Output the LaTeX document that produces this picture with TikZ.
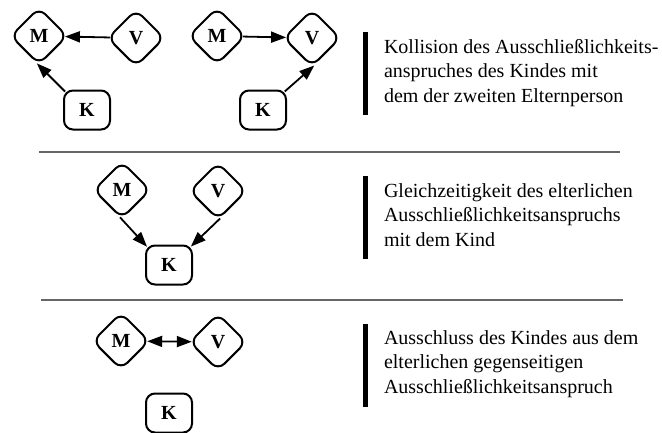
\documentclass[tikz,border=0pt]{standalone}
\usepackage{fontspec}
\setmainfont{Liberation Serif}
\usetikzlibrary{shapes.geometric,arrows.meta}
\tikzset{spitze/.tip={Triangle[length=15pt,width=11pt]}}

\begin{document}
\begin{tikzpicture}[x=1pt,y=-1pt,line width=2pt,>=spitze,
	eltern/.style={diamond,draw,rounded corners=9pt,minimum size=57pt,inner sep=0pt,font=\fontsize{20}{20}\selectfont\bfseries},
	kind/.style={draw,rounded corners=9pt,minimum width=46pt,minimum height=39pt,inner sep=0pt,font=\fontsize{20}{20}\selectfont\bfseries},
	pfeil/.style={line width=1.8pt,shorten >=-3pt,shorten <=-3pt},
	erkl/.style={anchor=base west,align=left,inner sep=0pt,font=\fontsize{20}{24.5}\selectfont},
	balken/.style={line width=5pt},
	trenner/.style={line width=1.2pt,black!60}]
	\useasboundingbox (0,0) rectangle (662,432);
	% Kollision
	\node[eltern] (m1) at (39,36) {M};
	\node[eltern] (v1) at (136,38) {V};
	\node[kind] (k1) at (87,110) {K};
	\draw[pfeil,->] (v1) -- (m1);
	\draw[pfeil,->] (k1.north west) -- (m1.south);
	\node[eltern] (m2) at (217,36) {M};
	\node[eltern] (v2) at (312,38) {V};
	\node[kind] (k2) at (263,110) {K};
	\draw[pfeil,->] (m2) -- (v2);
	\draw[pfeil,->] (k2.north east) -- (v2.south);
	\draw[balken] (365,32) -- (365,115);
	\node[erkl] (t1) at (383,102) {Kollision des Ausschließlichkeits-\\anspruches des Kindes mit\\dem der zweiten Elternperson};
	\draw[trenner] (39,152) -- (620,152);
	% Gleichzeitigkeit
	\node[eltern] (m3) at (122,190) {M};
	\node[eltern] (v3) at (218,191) {V};
	\node[kind] (k3) at (169,265) {K};
	\draw[pfeil,->] (m3.south) -- (k3.north west);
	\draw[pfeil,->] (v3.south) -- (k3.north east);
	\draw[balken] (365,176) -- (365,259);
	\node[erkl] (t2) at (383,246) {Gleichzeitigkeit des elterlichen\\Ausschließlichkeitsanspruchs\\mit dem Kind};
	\draw[trenner] (41,300) -- (623,300);
	% Ausschluss
	\node[eltern] (m4) at (121,341) {M};
	\node[eltern] (v4) at (218,342) {V};
	\node[kind] (k4) at (169,413) {K};
	\draw[pfeil,<->] (m4) -- (v4);
	\draw[balken] (365,324) -- (365,407);
	\node[erkl] (t3) at (383,393) {Ausschluss des Kindes aus dem\\elterlichen gegenseitigen\\Ausschließlichkeitsanspruch};
\end{tikzpicture}
\end{document}
